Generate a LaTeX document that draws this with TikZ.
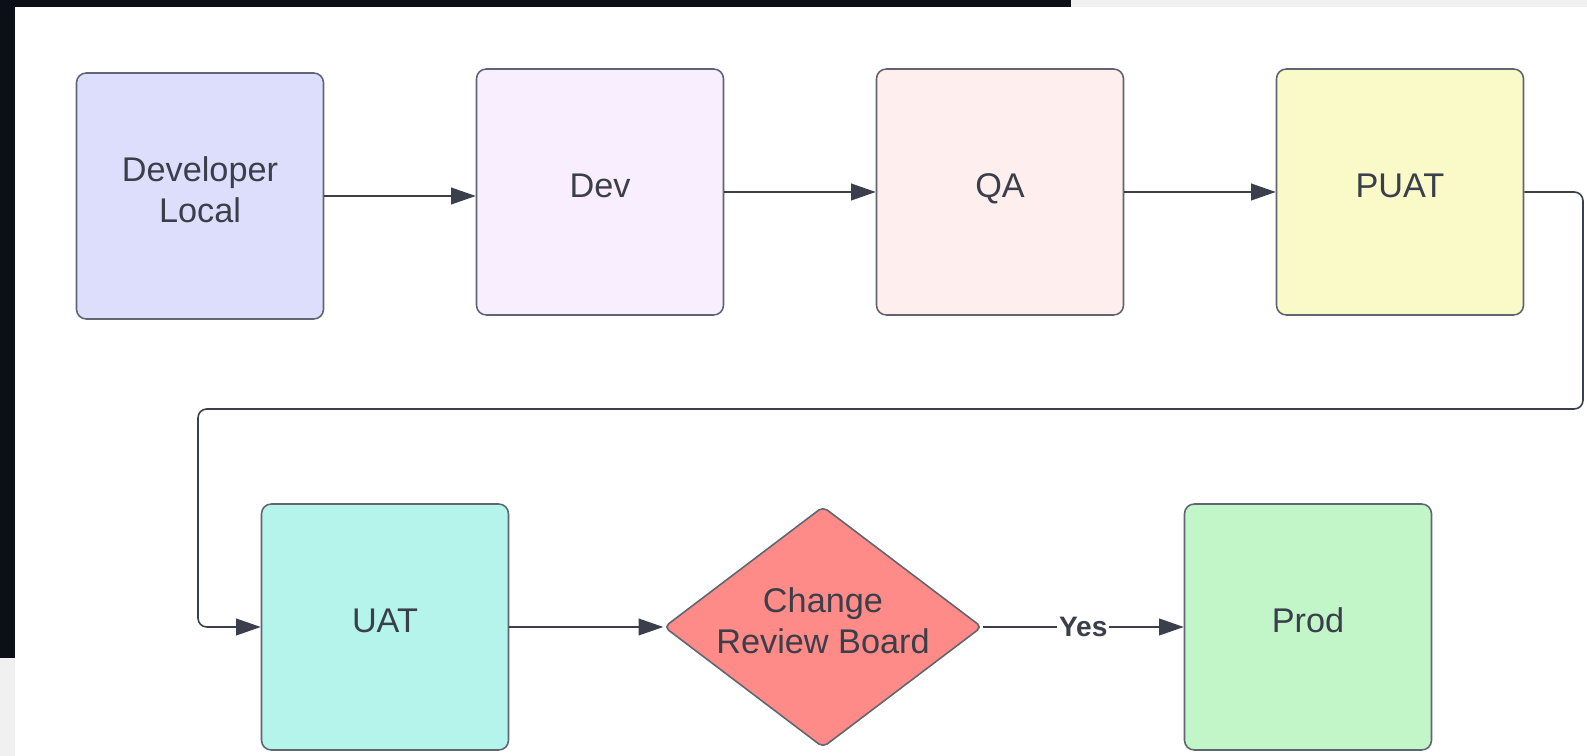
\documentclass[tikz,border=0pt]{standalone}
\usepackage{fontspec}
\setmainfont{Liberation Sans}
\usetikzlibrary{arrows.meta,shapes.geometric}
\definecolor{ink}{HTML}{3A3F4B}
\definecolor{edge}{HTML}{5F6571}
\definecolor{panel}{HTML}{0B0F17}
\definecolor{fillLocal}{HTML}{DDDEFC}
\definecolor{fillDev}{HTML}{F9EEFE}
\definecolor{fillQA}{HTML}{FEEFEE}
\definecolor{fillPUAT}{HTML}{FAFAC8}
\definecolor{fillUAT}{HTML}{B5F4EB}
\definecolor{fillCRB}{HTML}{FF8B88}
\definecolor{fillProd}{HTML}{C2F5C8}
\tikzstyle{envbox} = [draw=edge,line width=0.9pt,rounded corners=5.5pt,minimum width=4.94cm,minimum height=4.92cm,text=ink,align=center,text depth=7.5pt,font=\fontsize{19.5}{23.5}\selectfont]
\tikzstyle{gate} = [diamond,draw=edge,line width=0.9pt,rounded corners=3pt,aspect=1.32,inner sep=0pt,minimum width=6.36cm,minimum height=4.82cm,text=ink,align=center,text depth=7.5pt,font=\fontsize{19.5}{23.5}\selectfont]
\tikzstyle{arrow} = [draw=ink,line width=0.9pt,-{Triangle[length=14pt,width=9.5pt]}]

\begin{document}
\begin{tikzpicture}[x=0.02cm,y=-0.02cm]
			\useasboundingbox (0,0) rectangle (1587,756);
			\fill[gray!12] (0,0) rectangle (1587,756);
			\fill[panel] (0,0) rectangle (1071,658);
			\fill[white] (15,7) rectangle (1587,756);
			\node[envbox,fill=fillLocal] (local) at (200,196) {Developer\\Local};
			\node[envbox,fill=fillDev] (dev) at (600,192) {Dev};
			\node[envbox,fill=fillQA] (qa) at (1000,192) {QA};
			\node[envbox,fill=fillPUAT] (puat) at (1400,192) {PUAT};
			\node[envbox,fill=fillUAT] (uat) at (385,627) {UAT};
			\node[gate,fill=fillCRB] (crb) at (823,627) {Change\\Review Board};
			\node[envbox,fill=fillProd] (prod) at (1308,627) {Prod};
			\coordinate (bendR) at (1583,409);
			\coordinate (bendL) at (198,409);
			\draw[arrow] (local) -- (local -| dev.west);
			\draw[arrow] (dev) -- (qa);
			\draw[arrow] (qa) -- (puat);
			\draw[arrow,rounded corners=5pt] (puat.east) -| (bendR) -- (bendL) |- (uat.west);
			\draw[arrow] (uat) -- (crb);
			\draw[arrow] (crb) -- node[fill=white,inner sep=1pt,text=ink,font=\fontsize{16}{19}\selectfont\bfseries] {Yes} (prod);
		\end{tikzpicture}
\end{document}
